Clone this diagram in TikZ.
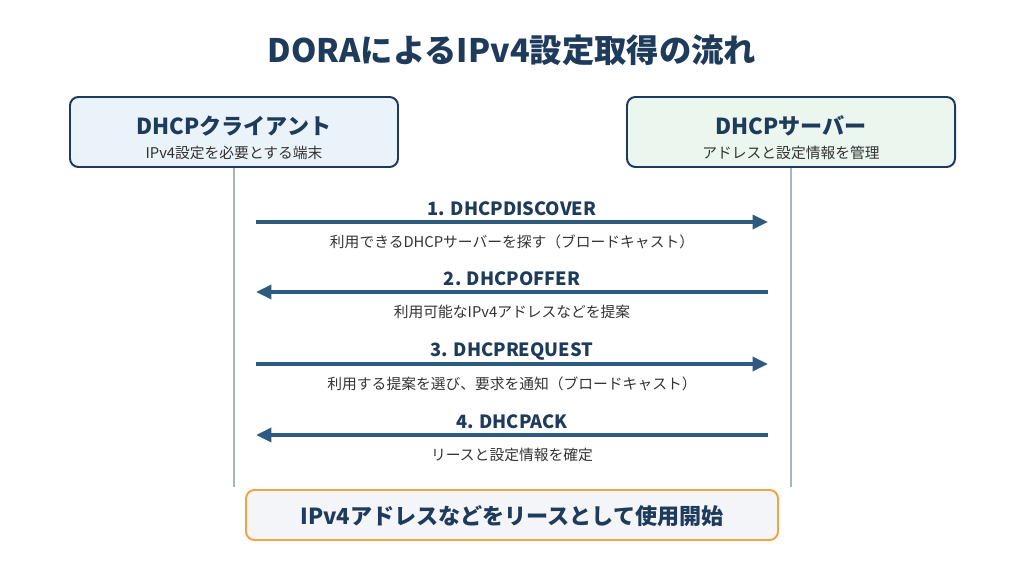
\documentclass[tikz,border=0pt]{standalone}
\usepackage{fontspec}
\setmainfont{Noto Sans CJK JP}
\usetikzlibrary{arrows.meta}
\definecolor{navy}{HTML}{1F3B5C}
\definecolor{arrowblue}{HTML}{2E5A80}
\definecolor{clientfill}{HTML}{EAF2FA}
\definecolor{serverfill}{HTML}{EAF6EE}
\definecolor{resultfill}{HTML}{F4F5F8}
\definecolor{resultdraw}{HTML}{F2A444}
\definecolor{lifegray}{HTML}{A9B4BE}
\definecolor{textgray}{HTML}{333333}
\tikzstyle{party}=[
        draw=navy,
        line width=1.4pt,
        rounded corners=6pt
]
\tikzstyle{message}=[
        draw=arrowblue,
        line width=2.3pt,
        -{Triangle[length=11pt,width=10pt]}
]
\tikzstyle{msgname}=[
        font=\fontsize{13}{15}\selectfont\bfseries,
        text=navy
]
\tikzstyle{msgnote}=[
        font=\fontsize{10.5}{12}\selectfont,
        text=textgray
]
\tikzstyle{boxtitle}=[
        font=\fontsize{15.7}{18}\selectfont\bfseries,
        text=navy
]

\begin{document}
\begin{tikzpicture}[x=0.025cm,y=-0.025cm]
                        \useasboundingbox (0,0) rectangle (1024,569);

                        \node[font=\fontsize{23}{27}\selectfont\bfseries,text=navy] (title) at (512,50) {DORAによるIPv4設定取得の流れ};

                        \draw[party,fill=clientfill] (70,97) rectangle (398,167);
                        \node[boxtitle] (client) at (234,126) {DHCPクライアント};
                        \node[msgnote] (clientnote) at (234,153) {IPv4設定を必要とする端末};

                        \draw[party,fill=serverfill] (627,97) rectangle (955,167);
                        \node[boxtitle] (server) at (791,126) {DHCPサーバー};
                        \node[msgnote] (servernote) at (791,153) {アドレスと設定情報を管理};

                        \coordinate (ctop) at (234,168);
                        \coordinate (cbot) at (234,487);
                        \coordinate (stop) at (791,168);
                        \coordinate (sbot) at (791,487);
                        \draw[lifegray,line width=1.2pt] (ctop) -- (cbot);
                        \draw[lifegray,line width=1.2pt] (stop) -- (sbot);

                        \foreach \n/\y/\dir/\name/\note in {
                            1/222/r/1. DHCPDISCOVER/利用できるDHCPサーバーを探す（ブロードキャスト）,
                            2/292/l/2. DHCPOFFER/利用可能なIPv4アドレスなどを提案,
                            3/364/r/3. DHCPREQUEST/利用する提案を選び、要求を通知（ブロードキャスト）,
                            4/435/l/4. DHCPACK/リースと設定情報を確定} {
                            \coordinate (c\n) at (256,\y);
                            \coordinate (s\n) at (768,\y);
                            \if r\dir
                                \draw[message] (c\n) -- (s\n);
                            \else
                                \draw[message] (s\n) -- (c\n);
                            \fi
                            \node[msgname] (name\n) at (512,\y-13) {\name};
                            \node[msgnote] (note\n) at (512,\y+20) {\note};
                        }

                        \draw[draw=resultdraw,fill=resultfill,line width=1.4pt,rounded corners=6pt] (246,490) rectangle (778,540);
                        \node[boxtitle] (result) at (512,516) {IPv4アドレスなどをリースとして使用開始};
                    \end{tikzpicture}
\end{document}
